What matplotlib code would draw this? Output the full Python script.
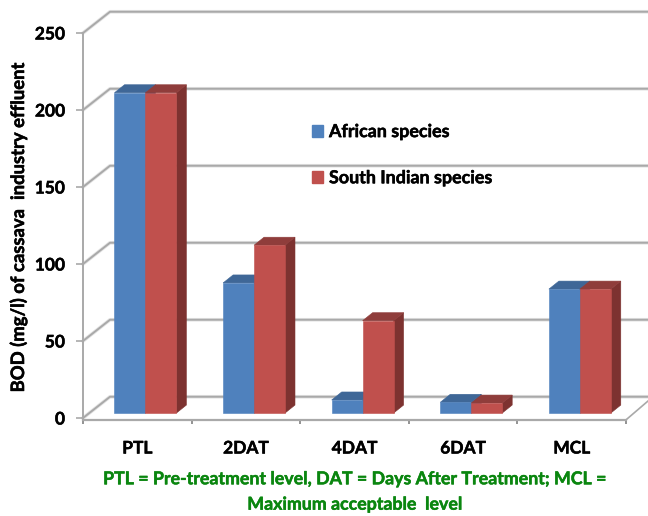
import matplotlib
matplotlib.use("Agg")
import matplotlib.pyplot as plt
import matplotlib.patheffects as pe
from matplotlib.patches import Patch, Polygon

plt.rcParams['font.family'] = ['Lato', 'DejaVu Sans']
plt.rcParams['font.weight'] = 'bold'

# --- Data ---
categories = ['PTL', '2DAT', '4DAT', '6DAT', 'MCL']
african = [208, 84.5, 8.5, 7, 80.5]
south_indian = [208, 109, 60, 6.5, 80.5]
yticks = [0, 50, 100, 150, 200, 250]
footer = ('PTL = Pre-treatment level, DAT = Days After Treatment; MCL =\n'
          'Maximum acceptable  level')

# --- 3D look, in data units ---
wall_dx, wall_dy = 0.2486, 13.8   # depth of the chart box
bar_dx, bar_dy = 0.092, 5.2       # depth of a bar
bar_lift = 3.2                    # bars stand a bit inside the floor
bar_w = 0.285
bar_start = 0.29
grid_col = '#a9a9a9'

blue = ('#4f81bd', '#3f6797', '#3b5f8c')
red = ('#c0504d', '#8f3d3b', '#7d3230')

fig = plt.figure(figsize=(6.48, 5.16), dpi=100)
ax = fig.add_axes([83 / 648, 1 - 418 / 516, 543 / 648, 385 / 516])
ax.set_xlim(0, 5)
ax.set_ylim(0, 250)

# walls: diagonal on the side, then the gridline along the back
for v in yticks:
    ax.plot([0, wall_dx, 5 + wall_dx + 0.2], [v, v + wall_dy, v + wall_dy],
            color='#e4e4e4', lw=2.6, clip_on=False, zorder=1)
    ax.plot([0, wall_dx, 5 + wall_dx + 0.2], [v, v + wall_dy, v + wall_dy],
            color=grid_col, lw=1.4, clip_on=False, zorder=1.1)
# right edge of the floor
ax.plot([5, 5 + wall_dx], [-1.2, wall_dy], color=grid_col, lw=1.2, clip_on=False, zorder=1.1)


def draw_bar(x, value, cols):
    y0 = bar_lift
    y1 = bar_lift + value
    front = [(x, y0), (x + bar_w, y0), (x + bar_w, y1), (x, y1)]
    top = [(x, y1), (x + bar_w, y1), (x + bar_w + bar_dx, y1 + bar_dy), (x + bar_dx, y1 + bar_dy)]
    side = [(x + bar_w, y0), (x + bar_w + bar_dx, y0 + bar_dy),
            (x + bar_w + bar_dx, y1 + bar_dy), (x + bar_w, y1)]
    for pts, c in ((side, cols[2]), (top, cols[1]), (front, cols[0])):
        ax.add_patch(Polygon(pts, closed=True, facecolor=c, edgecolor=c, lw=0.4,
                             clip_on=False, zorder=3))


for i in range(len(categories)):
    draw_bar(i + bar_start, african[i], blue)
    draw_bar(i + bar_start + bar_w, south_indian[i], red)

# --- Axes ---
for s in ('top', 'right'):
    ax.spines[s].set_visible(False)
ax.spines['left'].set_color(grid_col)
ax.spines['left'].set_linewidth(1.4)
ax.spines['bottom'].set_color(grid_col)
ax.spines['bottom'].set_linewidth(1.6)
ax.spines['bottom'].set_position(('outward', 1.2))

ax.set_yticks(yticks)
ax.tick_params(axis='y', length=5, width=1.2, color=grid_col, pad=8, labelsize=12.5)
ax.set_xticks(range(6))
ax.set_xticklabels([])
ax.tick_params(axis='x', which='major', length=3, width=1.2, color='#808080')
ax.set_xticks([i + 0.5 for i in range(5)], minor=True)
ax.set_xticklabels(categories, minor=True)
ax.tick_params(axis='x', which='minor', length=0, pad=15, labelsize=12.5)

ax.set_ylabel('BOD (mg/l) of cassava  industry effluent', fontsize=13.3, fontweight='bold')
ax.yaxis.set_label_coords(-0.103, 0.496)

leg = ax.legend(handles=[Patch(color=blue[0], label='African species'),
                         Patch(color=red[0], label='South Indian species')],
                frameon=False, loc='upper left', bbox_to_anchor=(0.422, 0.766),
                fontsize=12.9, handlelength=0.62, handleheight=0.7, handletextpad=0.32,
                labelspacing=1.63, borderpad=0, borderaxespad=0)
leg.set_zorder(5)

foot = fig.text(355 / 648, 1 - 491.5 / 516, footer, color='#0a860f', fontsize=12.8, fontweight='bold',
                ha='center', va='center', linespacing=1.6)

# reference text is heavier than Lato Bold, thicken it a little
texts = ax.get_yticklabels() + ax.get_xticklabels(minor=True) + leg.get_texts() + [ax.yaxis.label, foot]
for t in texts:
    t.set_path_effects([pe.withStroke(linewidth=0.35, foreground=t.get_color())])

fig.savefig('out.png', dpi=100)
